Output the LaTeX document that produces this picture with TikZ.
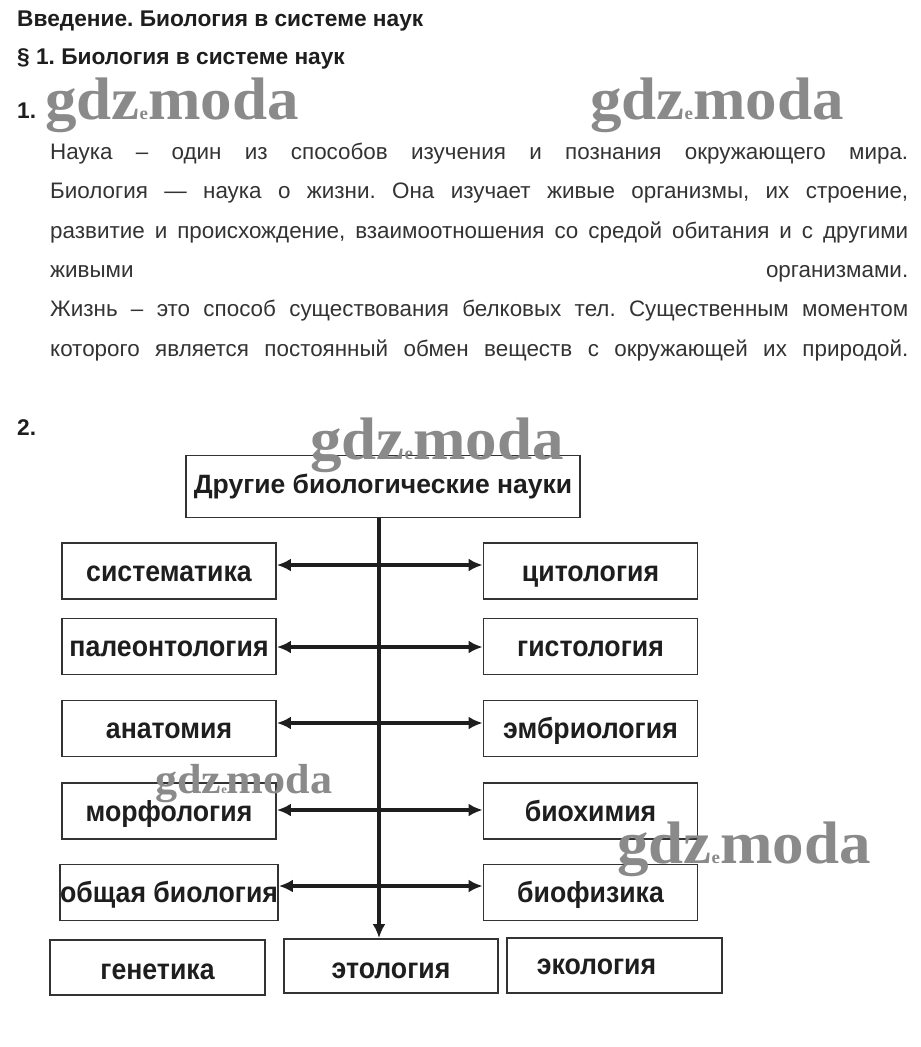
\documentclass[tikz,border=0pt]{standalone}
\usepackage{fontspec}
\setmainfont{Liberation Sans}
\newfontfamily\boxfont[FakeStretch=0.92]{Liberation Sans}
\newfontfamily\wmfont[FakeStretch=1.05]{Liberation Serif}
\usetikzlibrary{arrows.meta}
\definecolor{ink}{HTML}{1E1E1E}
\definecolor{bodyc}{HTML}{333333}
\definecolor{wmgray}{HTML}{8A8A8A}
\definecolor{frame}{HTML}{333333}
\frenchspacing
\begin{document}
\begin{tikzpicture}[x=1pt,y=-1pt,
  bx/.style={draw=frame, line width=1.9pt, minimum width=214pt, minimum height=56pt, inner sep=0pt,
    text height=24pt, text depth=4pt,
    font=\boxfont\bfseries\fontsize{29}{29}\selectfont, text=ink},
  conn/.style={draw=ink, line width=3.2pt, {Latex[length=14pt,width=13pt]}-{Latex[length=14pt,width=13pt]}},
  down/.style={draw=ink, line width=3.2pt, -{Latex[length=14pt,width=13pt]}},
  head/.style={anchor=base west, inner sep=0pt, text=ink, font=\bfseries\fontsize{22.7}{22.7}\selectfont},
  para/.style={anchor=base west, inner sep=0pt, text=bodyc, font=\fontsize{22.4}{22.4}\selectfont},
  wm/.style={anchor=base west, inner sep=0pt, text=wmgray, font=\wmfont\bfseries\fontsize{60}{60}\selectfont},
  wms/.style={wm, font=\wmfont\bfseries\fontsize{42}{42}\selectfont}
]
\useasboundingbox (0,0) rectangle (921,1047);
\fill[white] (0,0) rectangle (921,1047);

% headings
\node[head] (h1) at (17,26) {Введение. Биология в системе наук};
\node[head] (h2) at (17,64) {§ 1. Биология в системе наук};
\node[head] (n1) at (17,118) {1.};
\node[head] (n2) at (17,435) {2.};

% paragraph
\node[para] (p1) at (50,159) {\makebox[858pt][s]{Наука – один из способов изучения и познания окружающего мира.}};
\node[para] (p2) at (50,198.5) {\makebox[858pt][s]{Биология — наука о жизни. Она изучает живые организмы, их строение,}};
\node[para] (p3) at (50,238) {\makebox[858pt][s]{развитие и происхождение, взаимоотношения со средой обитания и с другими}};
\node[para] (p4) at (50,277) {\makebox[858pt][s]{живыми\hfill организмами.}};
\node[para] (p5) at (50,316.5) {\makebox[858pt][s]{Жизнь – это способ существования белковых тел. Существенным моментом}};
\node[para] (p6) at (50,356) {\makebox[858pt][s]{которого является постоянный обмен веществ с окружающей их природой.}};

% diagram
\node[bx, minimum width=394pt, minimum height=62pt, text height=19pt, text depth=6pt,
  font=\bfseries\fontsize{26.5}{26.5}\selectfont] (top) at (383,486.5) {Другие биологические науки};

\node[bx] (sys) at (169,571) {систематика};
\node[bx] (pal) at (169,646.5) {палеонтология};
\node[bx] (ana) at (169,728.5) {анатомия};
\node[bx] (mor) at (169,811) {морфология};
\node[bx] (obs) at (169,892.5) {общая биология};

\node[bx] (cyt) at (590.5,571) {цитология};
\node[bx] (gis) at (590.5,646.5) {гистология};
\node[bx] (emb) at (590.5,728.5) {эмбриология};
\node[bx] (bch) at (590.5,811) {биохимия};
\node[bx] (bph) at (590.5,892.5) {биофизика};

\node[bx, minimum width=215pt, minimum height=55pt, text height=26pt, text depth=2pt] (gen) at (157.5,967.5) {генетика};
\node[bx, minimum width=214pt, minimum height=54pt, text height=26pt, text depth=2pt] (eto) at (391,966) {этология};
\node[bx, minimum width=215pt, minimum height=55pt, text height=23pt, text depth=6pt] (eco) at (614.5,965.5) {экология\hspace*{36pt}};

\draw[down] (top.south -| 379,0) -- (eto.north -| 379,0);
\draw[conn] (sys.east |- 0,565) -- (cyt.west |- 0,565);
\draw[conn] (pal.east |- 0,647) -- (gis.west |- 0,647);
\draw[conn] (ana.east |- 0,723) -- (emb.west |- 0,723);
\draw[conn] (mor.east |- 0,810) -- (bch.west |- 0,810);
\draw[conn] (obs.east |- 0,886) -- (bph.west |- 0,886);

% watermarks
\node[wm] (w1) at (45,119) {gdz{\fontsize{18}{18}\selectfont e}moda};
\node[wm] (w2) at (590,119) {gdz{\fontsize{18}{18}\selectfont e}moda};
\node[wm] (w3) at (310,459) {gdz{\fontsize{18}{18}\selectfont e}moda};
\node[wms] (w4) at (155,793) {gdz{\fontsize{12}{12}\selectfont e}moda};
\node[wm] (w5) at (617,863) {gdz{\fontsize{18}{18}\selectfont e}moda};
\end{tikzpicture}
\end{document}
